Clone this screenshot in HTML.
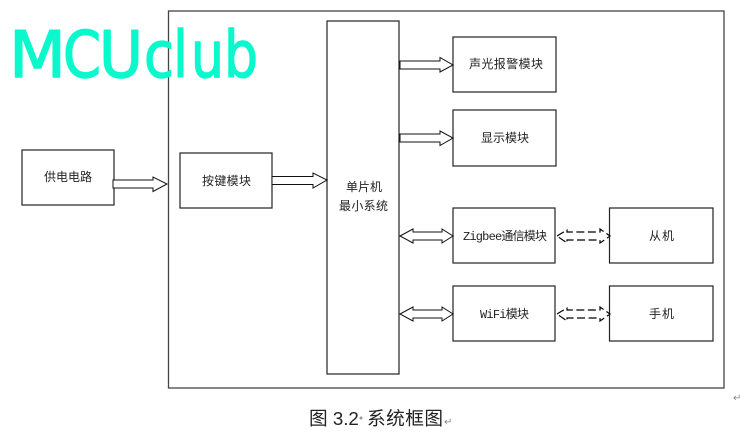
<!DOCTYPE html>
<html>
<head>
<meta charset="utf-8">
<style>
html,body{margin:0;padding:0;background:#fff;width:745px;height:444px;overflow:hidden}
svg{display:block}
.b{fill:#fff;stroke:#222;stroke-width:1.2}
.a{fill:#fff;stroke:#111;stroke-width:1}
.d{fill:none;stroke:#000;stroke-width:1.2;stroke-dasharray:8 3.5}
text{font-family:"Liberation Sans","WenQuanYi Zen Hei","Noto Sans CJK SC",sans-serif;font-size:12px;fill:#222}
.m{font-family:"Liberation Mono","WenQuanYi Zen Hei",monospace}
.w{font-family:"DejaVu Sans",sans-serif;font-size:64px;fill:#0af8cc;stroke:#0af8cc;stroke-width:1.4;stroke-linejoin:round;stroke-linecap:round}
</style>
</head>
<body>
<svg width="745" height="444" viewBox="0 0 745 444" xmlns="http://www.w3.org/2000/svg">
<rect x="168.5" y="11" width="555.5" height="377" fill="#fff" stroke="#444" stroke-width="1.3"/>
<rect class="b" x="22" y="150" width="92" height="55"/>
<rect class="b" x="180" y="153" width="92" height="55"/>
<rect class="b" x="327" y="21" width="72" height="353"/>
<rect class="b" x="453" y="37" width="103" height="55"/>
<rect class="b" x="453" y="110" width="103" height="56"/>
<rect class="b" x="453" y="208" width="102" height="55"/>
<rect class="b" x="453" y="286" width="102" height="55"/>
<rect class="b" x="609.5" y="208" width="103.5" height="55"/>
<rect class="b" x="609.5" y="286" width="103.5" height="55"/>

<polygon class="a" points="113,180 153,180 153,177 167,184 153,191.5 153,188 113,188"/>
<polygon class="a" points="272,176.5 313,176.5 313,173 327,180 313,188 313,184.5 272,184.5"/>
<polygon class="a" points="400,61 440,61 440,57.5 453,65 440,72 440,69 400,69"/>
<polygon class="a" points="400,134 440,134 440,131 453,138 440,145.5 440,142 400,142"/>
<polygon class="a" points="400,236 413,229 413,232 442,232 442,229 453,236 442,243 442,240 413,240 413,243"/>
<polygon class="a" points="400,314 413,307 413,310 442,310 442,307 453,314 442,321 442,318 413,318 413,321"/>
<polygon class="d" points="557,236 567,230 567,232 600,232 600,229 610,236 600,243 600,240 567,240 567,243"/>
<polygon class="d" points="557,314 567,308 567,310 600,310 600,307 610,314 600,321 600,318 567,318 567,321"/>

<text x="44" y="181" textLength="48">供电电路</text>
<text x="202" y="185" textLength="49">按键模块</text>
<text x="346" y="191" textLength="36">单片机</text>
<text x="339" y="210" textLength="49">最小系统</text>
<text x="469" y="68" textLength="74">声光报警模块</text>
<text x="481" y="142" textLength="48">显示模块</text>
<text class="m" x="463" y="240" textLength="84">Zigbee通信模块</text>
<text class="m" x="480" y="318" textLength="49">WiFi模块</text>
<text x="649" y="240" textLength="25">从机</text>
<text x="649" y="318" textLength="25">手机</text>

<text class="w" x="9" y="77" textLength="57" lengthAdjust="spacingAndGlyphs">M</text>
<text class="w" x="63" y="77" textLength="38" lengthAdjust="spacingAndGlyphs">C</text>
<text class="w" x="99" y="77" textLength="44" lengthAdjust="spacingAndGlyphs">U</text>
<text class="w" x="144" y="77" textLength="30" lengthAdjust="spacingAndGlyphs">c</text>
<text class="w" x="173" y="77" textLength="15" lengthAdjust="spacingAndGlyphs">l</text>
<text class="w" x="191" y="77" textLength="33" lengthAdjust="spacingAndGlyphs">u</text>
<text class="w" x="224" y="77" textLength="34" lengthAdjust="spacingAndGlyphs">b</text>

<text x="309" y="425" style="font-size:18.67px">图 3.2</text>
<circle cx="361" cy="418" r="1.5" fill="#999"/>
<text x="367" y="425" style="font-size:18.67px" textLength="76">系统框图</text>
<text x="444" y="425" style="font-size:10px;fill:#888">↵</text>
<text x="733" y="401" style="font-size:10px;fill:#888">↵</text>
</svg>
</body>
</html>
